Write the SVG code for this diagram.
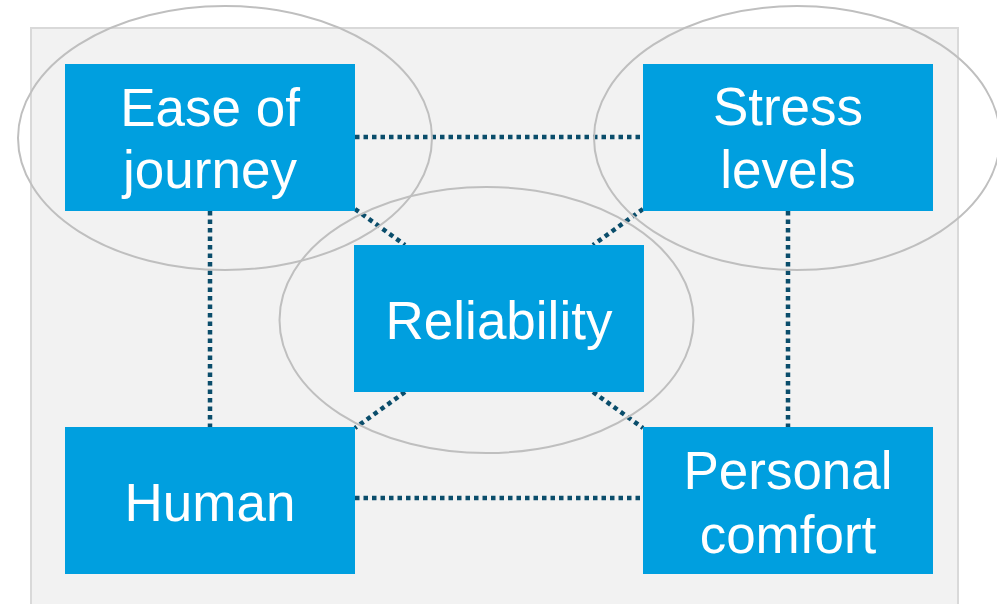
<svg xmlns="http://www.w3.org/2000/svg" width="997" height="604" viewBox="0 0 997 604">
<style>
.box{fill:#009fdf}
.lbl{fill:#ffffff;font-family:"Liberation Sans",Arial,sans-serif;font-size:53px;text-anchor:middle}
.con{stroke:#0a4d6b;stroke-width:4.5;stroke-dasharray:4.5 4;fill:none}
.ell{fill:none;stroke:#bfbfbf;stroke-width:2}
</style>
<rect x="0" y="0" width="997" height="604" fill="#ffffff"/>
<rect x="31" y="28" width="927" height="590" fill="#f2f2f2" stroke="#d9d9d9" stroke-width="2"/>
<g id="connectors">
<line class="con" x1="355" y1="137" x2="643" y2="137"/>
<line class="con" x1="355" y1="498" x2="643" y2="498"/>
<line class="con" x1="210" y1="211" x2="210" y2="427"/>
<line class="con" x1="788" y1="211" x2="788" y2="427"/>
<line class="con" x1="355" y1="209" x2="405" y2="245"/>
<line class="con" x1="643" y1="209" x2="593" y2="245"/>
<line class="con" x1="405" y1="392" x2="355" y2="428"/>
<line class="con" x1="593" y1="392" x2="643" y2="428"/>
</g>
<g id="groups">
<ellipse class="ell" cx="225" cy="138" rx="207" ry="132"/>
<ellipse class="ell" cx="797" cy="138" rx="203" ry="132"/>
<ellipse class="ell" cx="486.5" cy="320" rx="207" ry="133"/>
</g>
<g id="ease">
<rect class="box" x="65" y="64" width="290" height="147"/>
<text class="lbl" x="210" y="126">Ease of</text>
<text class="lbl" x="210" y="188">journey</text>
</g>
<g id="stress">
<rect class="box" x="643" y="64" width="290" height="147"/>
<text class="lbl" x="788" y="125">Stress</text>
<text class="lbl" x="788" y="188">levels</text>
</g>
<g id="reliability">
<rect class="box" x="354" y="245" width="290" height="147"/>
<text class="lbl" x="499" y="339">Reliability</text>
</g>
<g id="human">
<rect class="box" x="65" y="427" width="290" height="147"/>
<text class="lbl" x="210" y="521">Human</text>
</g>
<g id="personal">
<rect class="box" x="643" y="427" width="290" height="147"/>
<text class="lbl" x="788" y="489">Personal</text>
<text class="lbl" x="788" y="553">comfort</text>
</g>
</svg>
